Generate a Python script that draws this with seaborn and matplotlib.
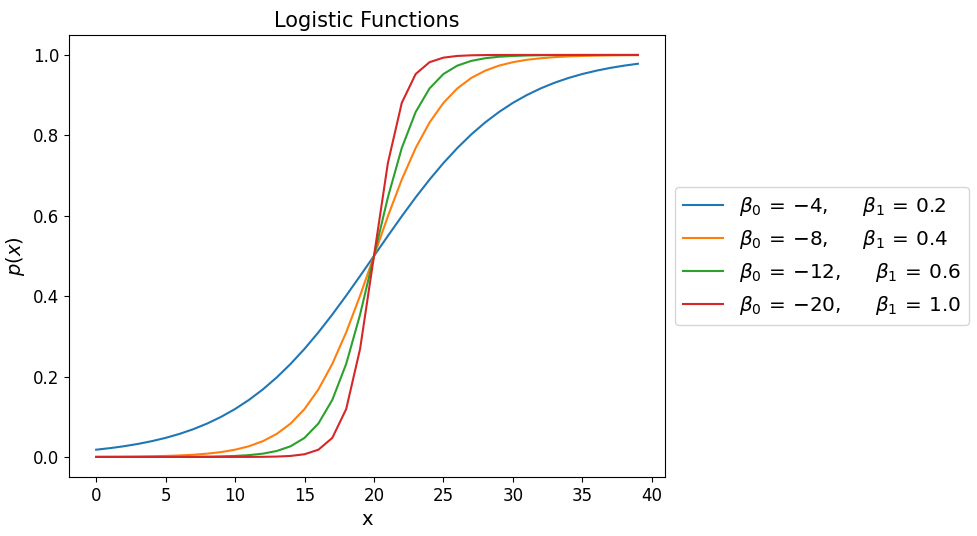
import matplotlib
matplotlib.use("Agg")
import matplotlib.pyplot as plt
import numpy as np
import pandas as pd
import seaborn as sns

x_values = list(range(40))

labels = [
    r"$\beta_0 \,=\, {-4}, \quad\;\; \beta_1 \,=\, 0.2$",
    r"$\beta_0 \,=\, {-8}, \quad\;\; \beta_1 \,=\, 0.4$",
    r"$\beta_0 \,=\, {-12}, \quad\;\; \beta_1 \,=\, 0.6$",
    r"$\beta_0 \,=\, {-20}, \quad\;\; \beta_1 \,=\, 1.0$",
]

p_b4 = [0.018, 0.0219, 0.0266, 0.0323, 0.0392, 0.0474, 0.0573, 0.0691, 0.0832, 0.0998,
        0.1192, 0.1419, 0.168, 0.1978, 0.2315, 0.2689, 0.31, 0.3543, 0.4013, 0.4502,
        0.5, 0.5498, 0.5987, 0.6457, 0.69, 0.7311, 0.7685, 0.8022, 0.832, 0.8581,
        0.8808, 0.9002, 0.9168, 0.9309, 0.9427, 0.9526, 0.9608, 0.9677, 0.9734, 0.9781]

p_b8 = [0.0003, 0.0005, 0.0007, 0.0011, 0.0017, 0.0025, 0.0037, 0.0055, 0.0082, 0.0121,
        0.018, 0.0266, 0.0392, 0.0573, 0.0832, 0.1192, 0.168, 0.2315, 0.31, 0.4013,
        0.5, 0.5987, 0.69, 0.7685, 0.832, 0.8808, 0.9168, 0.9427, 0.9608, 0.9734,
        0.982, 0.9879, 0.9918, 0.9945, 0.9963, 0.9975, 0.9983, 0.9989, 0.9993, 0.9995]

p_b12 = [0.0, 0.0, 0.0, 0.0, 0.0001, 0.0001, 0.0002, 0.0004, 0.0007, 0.0014,
         0.0025, 0.0045, 0.0082, 0.0148, 0.0266, 0.0474, 0.0832, 0.1419, 0.2315, 0.3543,
         0.5, 0.6457, 0.7685, 0.8581, 0.9168, 0.9526, 0.9734, 0.9852, 0.9918, 0.9955,
         0.9975, 0.9986, 0.9993, 0.9996, 0.9998, 0.9999, 0.9999, 1.0, 1.0, 1.0]

p_b20 = [0.0, 0.0, 0.0, 0.0, 0.0, 0.0, 0.0, 0.0, 0.0, 0.0,
         0.0, 0.0001, 0.0003, 0.0009, 0.0025, 0.0067, 0.018, 0.0474, 0.1192, 0.2689,
         0.5, 0.7311, 0.8808, 0.9526, 0.982, 0.9933, 0.9975, 0.9991, 0.9997, 0.9999,
         1.0, 1.0, 1.0, 1.0, 1.0, 1.0, 1.0, 1.0, 1.0, 1.0]

series = [p_b4, p_b8, p_b12, p_b20]

rows = []
for label, values in zip(labels, series):
    for xv, pv in zip(x_values, values):
        rows.append([label, xv, pv])
df = pd.DataFrame(rows, columns=["params", "x", "p"])

plt.rcParams["font.size"] = 12
fig, ax = plt.subplots(figsize=(9.78, 5.36), dpi=100)
fig.subplots_adjust(left=0.0706, right=0.680, top=0.935, bottom=0.110)

sns.lineplot(data=df, x="x", y="p", hue="params", palette="tab10", ax=ax)

ax.set_title("Logistic Functions", fontsize=15)
ax.set_xlabel("x", fontsize=14)
ax.set_ylabel(r"$p(x)$", fontsize=14)
ax.set_xticks([0, 5, 10, 15, 20, 25, 30, 35, 40])
ax.set_yticks([0.0, 0.2, 0.4, 0.6, 0.8, 1.0])
ax.legend(loc="center left", bbox_to_anchor=(1.0, 0.5), fontsize=14.4)

fig.savefig("out.png", dpi=100)
plt.close(fig)
